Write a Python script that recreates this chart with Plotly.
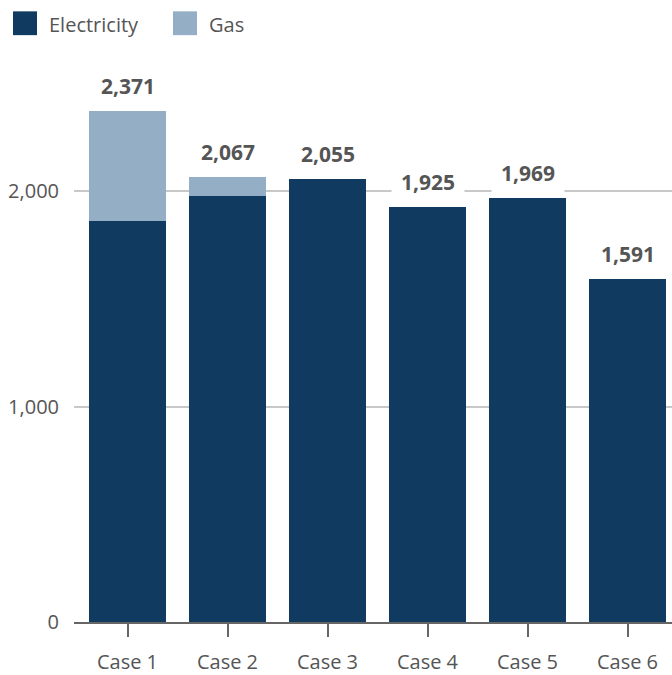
import plotly.graph_objects as go

categories = ["Case 1", "Case 2", "Case 3", "Case 4", "Case 5", "Case 6"]
electricity = [1860, 1975, 2055, 1925, 1969, 1591]
gas = [511, 92, 0, 0, 0, 0]
series_names = ["Electricity", "Gas"]
y_ticks = [0, 1000, 2000]

ELEC_COLOR = "#103a60"
GAS_COLOR = "#93aec5"
TEXT_COLOR = "#555555"
FONT = "'Open Sans', 'Source Sans Pro', sans-serif"

W, H = 672, 675
ML, MR, MT, MB = 74, 0, 52, 48
PW, PH = W - ML - MR, H - MT - MB


def px_x(px):
    return (px - ML) / PW


def px_y(py):
    return (H - MB - py) / PH


totals = [e + g for e, g in zip(electricity, gas)]

fig = go.Figure()
fig.add_trace(go.Bar(x=categories, y=electricity, name=series_names[0],
                     marker=dict(color=ELEC_COLOR, line=dict(width=0)),
                     width=0.77, showlegend=False))
fig.add_trace(go.Bar(x=categories, y=gas, name=series_names[1],
                     marker=dict(color=GAS_COLOR, line=dict(width=0)),
                     width=0.77, showlegend=False))

annotations = []
for c, t in zip(categories, totals):
    annotations.append(dict(x=c, y=t, xref="x", yref="y", text=f"<b>{t:,}</b>",
                            showarrow=False, yanchor="bottom", yshift=1,
                            font=dict(family=FONT, size=21, color=TEXT_COLOR),
                            bgcolor="white", borderpad=9))

# manual legend
shapes = []
legend_items = [(series_names[0], ELEC_COLOR, 13), (series_names[1], GAS_COLOR, 173)]
for name, col, x0 in legend_items:
    shapes.append(dict(type="rect", xref="paper", yref="paper",
                       x0=px_x(x0), x1=px_x(x0 + 24), y0=px_y(35), y1=px_y(11),
                       fillcolor=col, line=dict(width=0), layer="above"))
    annotations.append(dict(xref="paper", yref="paper", x=px_x(x0 + 34), y=px_y(24),
                            xanchor="left", yanchor="middle", showarrow=False,
                            text=name, font=dict(family=FONT, size=20, color=TEXT_COLOR)))

fig.update_layout(
    width=W, height=H,
    margin=dict(l=ML, r=MR, t=MT, b=MB),
    barmode="stack",
    bargap=0.23,
    plot_bgcolor="white", paper_bgcolor="white",
    font=dict(family=FONT, size=20, color=TEXT_COLOR),
    annotations=annotations,
    shapes=shapes,
    showlegend=False,
)
fig.update_xaxes(range=[-0.535, 5.445], showline=True, linecolor="#666666", linewidth=2,
                 ticks="outside", ticklen=13, tickwidth=2, tickcolor="#666666",
                 showgrid=False, zeroline=False, ticklabelstandoff=8,
                 tickfont=dict(family=FONT, size=20, color=TEXT_COLOR))
fig.update_yaxes(range=[0, 2645], tickvals=y_ticks, tickformat=",",
                 showgrid=True, gridcolor="#c8c8c8", gridwidth=2,
                 zeroline=False, showline=False, ticks="", ticklabelstandoff=14,
                 tickfont=dict(family=FONT, size=20, color=TEXT_COLOR))

fig.write_html("out.html", config={"displayModeBar": False},
               post_script="document.body.style.margin='0px';")
